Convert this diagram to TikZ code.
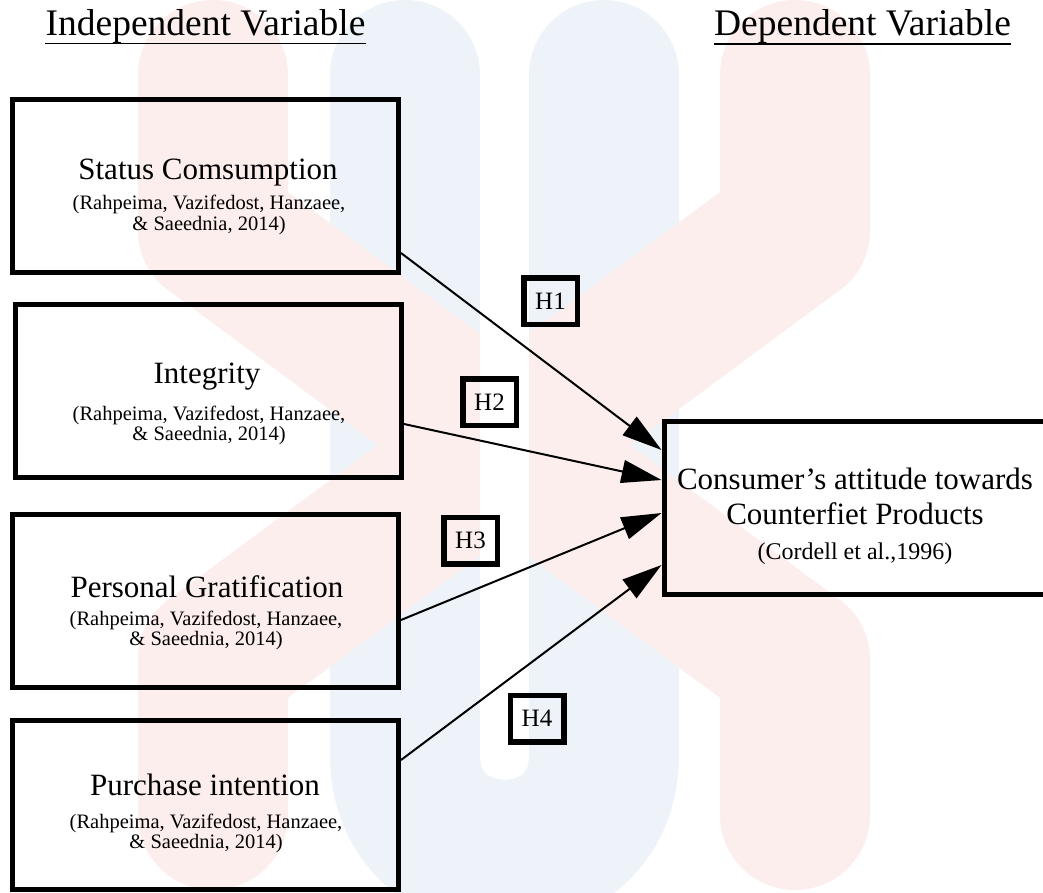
\documentclass[tikz,border=0pt]{standalone}
\usepackage{fontspec}
\setmainfont{Liberation Serif}
\usetikzlibrary{arrows.meta}
\definecolor{wmpink}{RGB}{253,238,238}
\definecolor{wmblue}{RGB}{237,243,248}
\begin{document}
\begin{tikzpicture}[x=1pt,y=-1pt,
  bigbox/.style={draw=black, line width=5pt, minimum width=386pt, minimum height=173pt, inner sep=0pt},
  hbox/.style={draw=black, line width=5.5pt, minimum width=53.5pt, minimum height=46.5pt, inner sep=0pt, font=\fontsize{25}{27}\selectfont},
  head/.style={anchor=base, inner sep=0pt, font=\fontsize{37.5}{40}\selectfont},
  vname/.style={anchor=base, inner sep=0pt, font=\fontsize{31}{33}\selectfont},
  cite/.style={anchor=base, inner sep=0pt, font=\fontsize{20.5}{22}\selectfont},
  arr/.style={line width=2pt, -{Triangle[length=40pt,width=23pt]}},
  wm/.style={line width=150pt, line cap=round, line join=round},
]
\useasboundingbox (0,0) rectangle (1043,893);
\clip (0,0) rectangle (1043,893);
\fill[white] (0,0) rectangle (1043,893);
% watermark
\draw[wm, wmblue] (405,75) -- (405,755) .. controls (405,888) and (604,888) .. (604,755) -- (604,75);
\draw[wm, wmpink] (213,75) -- (213,230) -- (795,660) -- (795,815);
\draw[wm, wmpink] (795,75) -- (795,230) -- (213,660) -- (213,815);
\fill[white] (480,-5) rectangle (529,755);
\fill[white] (504.5,755) circle[radius=24.5pt];
% headers
\node[head] (ivh) at (205.5,36) {Independent Variable};
\node[head] (dvh) at (862.5,36) {Dependent Variable};
\draw[line width=1.6pt] ([yshift=-7.5pt]ivh.base west) -- ([yshift=-7.5pt]ivh.base east);
\draw[line width=1.6pt] ([yshift=-8pt]dvh.base west) -- ([yshift=-8pt]dvh.base east);
% boxes
\node[bigbox] (b1) at (205.5,186) {};
\node[bigbox] (b2) at (208.5,391) {};
\node[bigbox] (b3) at (205.5,601) {};
\node[bigbox, minimum height=169pt] (b4) at (205.5,805) {};
\node[bigbox, minimum width=406pt] (dv) at (867,507.5) {};
% texts
\node[vname] (t1) at (208,180) {Status Comsumption};
\node[cite] (c1a) at (209,210) {(Rahpeima, Vazifedost, Hanzaee,};
\node[cite] (c1b) at (209,230) {\& Saeednia, 2014)};
\node[vname] (t2) at (207,383) {Integrity};
\node[cite] (c2a) at (209,420) {(Rahpeima, Vazifedost, Hanzaee,};
\node[cite] (c2b) at (209,440) {\& Saeednia, 2014)};
\node[vname] (t3) at (207,597) {Personal Gratification};
\node[cite] (c3a) at (206,625) {(Rahpeima, Vazifedost, Hanzaee,};
\node[cite] (c3b) at (206,645) {\& Saeednia, 2014)};
\node[vname] (t4) at (205,795) {Purchase intention};
\node[cite] (c4a) at (206,828) {(Rahpeima, Vazifedost, Hanzaee,};
\node[cite] (c4b) at (206,848) {\& Saeednia, 2014)};
\node[vname] (d1) at (855,489) {Consumer’s attitude towards};
\node[vname] (d2) at (855,524) {Counterfiet Products};
\node[cite, font=\fontsize{24}{26}\selectfont] (d3) at (855,559) {(Cordell et al.,1996)};
% hypothesis labels
\node[hbox] (h1) at (550.5,301) {H1};
\node[hbox] (h2) at (489.5,402) {H2};
\node[hbox] (h3) at (470.5,540.5) {H3};
\node[hbox] (h4) at (537,718.5) {H4};
% arrows
\draw[arr] ([yshift=-67pt]b1.east) -- ([yshift=57.5pt]dv.west);
\draw[arr] ([yshift=-33pt]b2.east) -- ([yshift=27.5pt]dv.west);
\draw[arr] ([yshift=-19pt]b3.east) -- ([yshift=-5.5pt]dv.west);
\draw[arr] ([yshift=45pt]b4.east) -- ([yshift=-57.5pt]dv.west);
\end{tikzpicture}
\end{document}
